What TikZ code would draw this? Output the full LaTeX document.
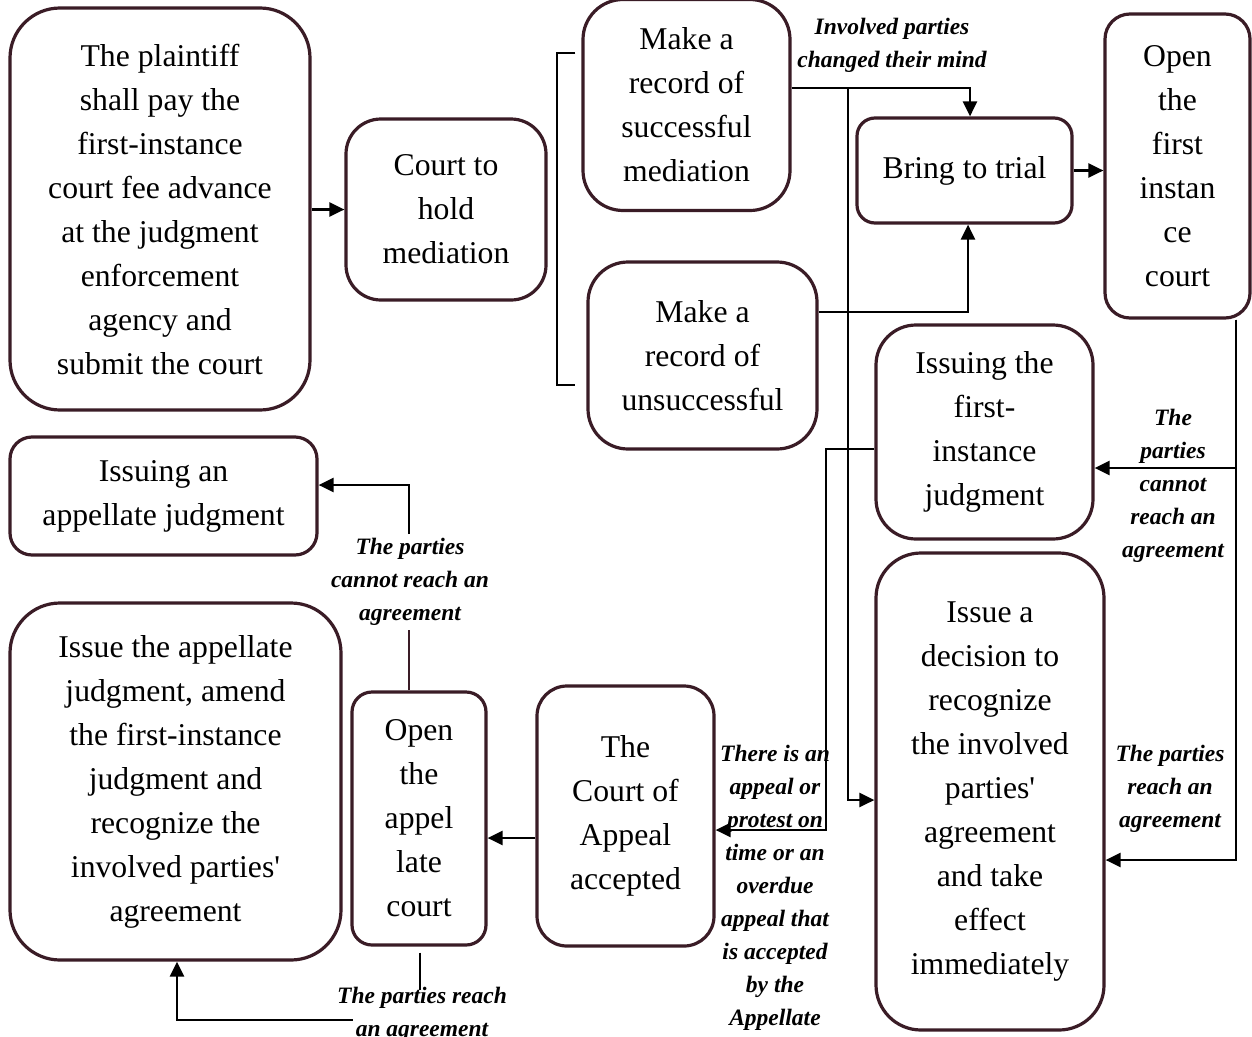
\documentclass[tikz,border=0pt]{standalone}
\usepackage{fontspec}
\setmainfont{Liberation Serif}[Ligatures=TeXOff]
\usetikzlibrary{arrows.meta,calc}
\definecolor{boxc}{RGB}{58,28,38}
\begin{document}
\begin{tikzpicture}[x=1pt,y=-1pt,
  box/.style={draw=boxc, line width=3.2pt, fill=white, align=center, font=\fontsize{31.7}{44}\selectfont, inner sep=0pt},
  lab/.style={align=center, font=\fontsize{23.5}{33}\selectfont\bfseries\itshape, inner sep=0pt},
  conn/.style={line width=2.5pt, draw=black},
  arr/.style={conn, -{Triangle[length=15pt,width=14pt]}}]
\useasboundingbox (0,0) rectangle (1252,1036);
\fill[white] (0,0) rectangle (1252,1036);

% helper coordinates
\coordinate (y88) at (0,88);
\coordinate (y312) at (0,312);
\coordinate (y449) at (0,449);
\coordinate (y468) at (0,468);
\coordinate (y485) at (0,485);
\coordinate (y800) at (0,800);
\coordinate (y830) at (0,830);
\coordinate (y838) at (0,838);
\coordinate (y860) at (0,860);
\coordinate (y1020) at (0,1020);
\coordinate (x177) at (177,0);
\coordinate (x409) at (409,0);
\coordinate (x420) at (420,0);
\coordinate (x826) at (826,0);
\coordinate (x848) at (848,0);
\coordinate (x1236) at (1236,0);

% nodes
\node[box, minimum width=300, minimum height=402, rounded corners=50] (n1) at (160,209)
  {The plaintiff\\shall pay the\\first-instance\\court fee advance\\at the judgment\\enforcement\\agency and\\submit the court};
\node[box, minimum width=200, minimum height=181, rounded corners=35] (n2) at (446,209.5)
  {Court to\\hold\\mediation};
\node[box, minimum width=207, minimum height=211, rounded corners=40] (n3) at (686.5,105)
  {Make a\\record of\\successful\\mediation};
\node[box, minimum width=229, minimum height=187, rounded corners=40] (n4) at (702.5,355.5)
  {Make a\\record of\\unsuccessful};
\node[box, minimum width=215, minimum height=105, rounded corners=18] (n5) at (964.5,170.5)
  {Bring to trial};
\node[box, minimum width=145, minimum height=304, rounded corners=25] (n6) at (1177.5,166)
  {Open\\the\\first\\instan\\ce\\court};
\node[box, minimum width=217, minimum height=214, rounded corners=40] (n7) at (984.5,432)
  {Issuing the\\first-\\instance\\judgment};
\node[box, minimum width=228, minimum height=477, rounded corners=45] (n8) at (990,791.5)
  {Issue a\\decision to\\recognize\\the involved\\parties'\\agreement\\and take\\effect\\immediately};
\node[box, minimum width=307, minimum height=118, rounded corners=22] (n9) at (163.5,496)
  {Issuing an\\appellate judgment};
\node[box, minimum width=331, minimum height=357, rounded corners=50] (n10) at (175.5,781.5)
  {Issue the appellate\\judgment, amend\\the first-instance\\judgment and\\recognize the\\involved parties'\\agreement};
\node[box, minimum width=134, minimum height=253, rounded corners=20] (n11) at (419,818.5)
  {Open\\the\\appel\\late\\court};
\node[box, minimum width=177, minimum height=260, rounded corners=30] (n12) at (625.5,816)
  {The\\Court of\\Appeal\\accepted};

% labels
\node[lab] (l1) at (892,45) {Involved parties\\changed their mind};
\node[lab] (l2) at (1173,486) {The\\parties\\cannot\\reach an\\agreement};
\node[lab] (l3) at (1170,789) {The parties\\reach an\\agreement};
\node[lab] (l4) at (775,888) {There is an\\appeal or\\protest on\\time or an\\overdue\\appeal that\\is accepted\\by the\\Appellate};
\node[lab] (l5) at (410,582) {The parties\\cannot reach an\\agreement};
\node[lab] (l6) at (422,1014) {The parties reach\\an agreement};

% bracket
\coordinate (b1) at ($(n3.west |- 0,53)+(-6,0)$);
\coordinate (b2) at ($(n4.west |- 0,385)+(-11,0)$);
\draw[conn, line width=2.2pt] (b1) -- (557,53) -- (557,385) -- (b2);

% connectors
\draw[arr] (n2.west -| n1.east) -- (n2.west);
\draw[arr] (n3.east |- y88) -| ($(n5.north)+(5.5,0)$);
\coordinate (j1) at (x848 |- y88);
\draw[arr] (j1) -- (x848 |- y800) -- (n8.west |- y800);
\draw[arr] (n4.east |- y312) -| ($(n5.south)+(3.5,0)$);
\draw[arr] (n5.east) -- (n6.west |- n5.east);
\draw[arr] (n6.south -| x1236) |- (n7.east |- y468);
\draw[arr] (n6.south -| x1236) |- (n8.east |- y860);
\draw[arr] (n7.west |- y449) -- (x826 |- y449) |- (n12.east |- y830);
\draw[arr] (n12.west |- y838) -- (n11.east |- y838);
\draw[conn, draw=boxc] (n11.north -| x409) -- ($(l5.south -| x409)+(0,4)$);
\draw[arr] ($(l5.north -| x409)+(0,-4)$) -- (x409 |- y485) -- (n9.east |- y485);
\draw[conn, shorten <=6pt] (n11.south -| x420) -- ($(l6.north -| x420)+(0,3)$);
\draw[arr] ($(l6.west |- y1020)+(16,0)$) -- (x177 |- y1020) -- (n10.south -| x177);
\end{tikzpicture}
\end{document}
